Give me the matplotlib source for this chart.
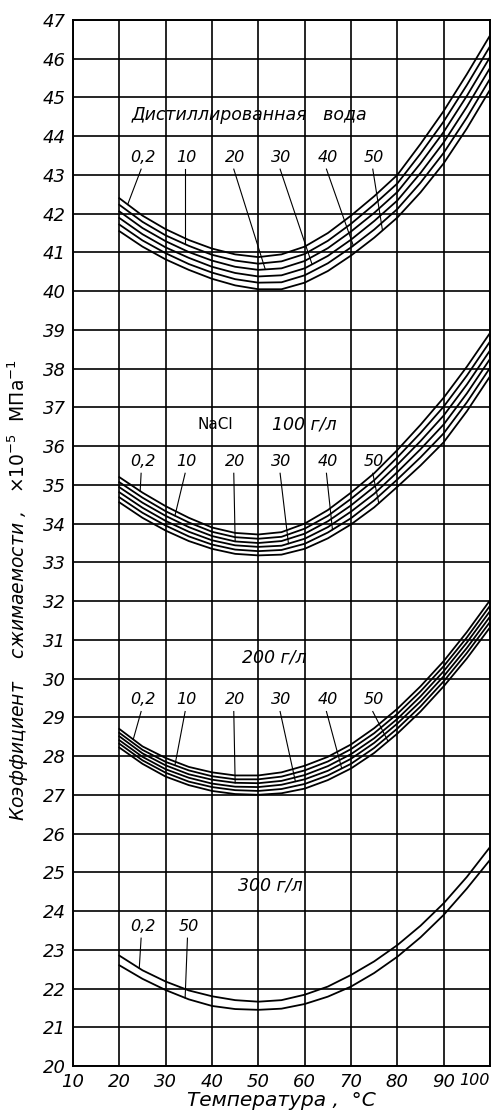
import numpy as np
import matplotlib
matplotlib.use("Agg")
from matplotlib import pyplot as plt

# temperature grid, degrees C
temps = [20, 25, 30, 35, 40, 45, 50, 55, 60, 65, 70, 75, 80, 85, 90, 95, 100]

# compressibility, x10^-5 MPa^-1; one row per pressure 0.2, 10, 20, 30, 40, 50 MPa
water = [
    [42.40, 41.95, 41.60, 41.32, 41.10, 40.95, 40.88, 40.95, 41.15, 41.50, 41.95, 42.45, 43.00, 43.80, 44.65, 45.60, 46.60],
    [42.23, 41.79, 41.44, 41.17, 40.94, 40.79, 40.71, 40.77, 40.96, 41.30, 41.74, 42.24, 42.78, 43.55, 44.38, 45.32, 46.32],
    [42.06, 41.63, 41.29, 41.01, 40.79, 40.63, 40.55, 40.59, 40.78, 41.11, 41.54, 42.02, 42.56, 43.30, 44.11, 45.04, 46.04],
    [41.89, 41.47, 41.13, 40.86, 40.63, 40.47, 40.38, 40.41, 40.59, 40.91, 41.33, 41.81, 42.34, 43.05, 43.84, 44.76, 45.76],
    [41.72, 41.31, 40.98, 40.70, 40.48, 40.31, 40.22, 40.23, 40.41, 40.72, 41.13, 41.59, 42.12, 42.80, 43.57, 44.48, 45.48],
    [41.55, 41.15, 40.82, 40.55, 40.32, 40.15, 40.05, 40.05, 40.22, 40.52, 40.92, 41.38, 41.90, 42.55, 43.30, 44.20, 45.20],
]
nacl_100 = [
    [35.20, 34.80, 34.45, 34.15, 33.90, 33.76, 33.72, 33.78, 34.00, 34.35, 34.80, 35.30, 35.90, 36.55, 37.25, 38.05, 38.92],
    [35.07, 34.67, 34.32, 34.03, 33.79, 33.65, 33.61, 33.66, 33.87, 34.20, 34.64, 35.12, 35.71, 36.34, 37.02, 37.82, 38.70],
    [34.94, 34.54, 34.20, 33.91, 33.68, 33.54, 33.50, 33.55, 33.74, 34.06, 34.47, 34.95, 35.52, 36.13, 36.79, 37.59, 38.47],
    [34.81, 34.41, 34.07, 33.79, 33.57, 33.44, 33.40, 33.43, 33.61, 33.91, 34.31, 34.77, 35.33, 35.92, 36.56, 37.36, 38.25],
    [34.68, 34.28, 33.95, 33.67, 33.46, 33.33, 33.29, 33.32, 33.48, 33.77, 34.14, 34.60, 35.14, 35.71, 36.33, 37.13, 38.02],
    [34.55, 34.15, 33.82, 33.55, 33.35, 33.22, 33.18, 33.20, 33.35, 33.62, 33.98, 34.42, 34.95, 35.50, 36.10, 36.90, 37.80],
]
nacl_200 = [
    [28.70, 28.25, 27.95, 27.72, 27.58, 27.50, 27.50, 27.58, 27.75, 27.98, 28.30, 28.72, 29.22, 29.80, 30.45, 31.20, 32.02],
    [28.60, 28.16, 27.85, 27.63, 27.48, 27.40, 27.40, 27.47, 27.63, 27.86, 28.18, 28.59, 29.09, 29.67, 30.32, 31.06, 31.88],
    [28.51, 28.07, 27.76, 27.53, 27.39, 27.31, 27.30, 27.36, 27.51, 27.74, 28.05, 28.46, 28.96, 29.54, 30.19, 30.93, 31.74],
    [28.41, 27.98, 27.66, 27.44, 27.29, 27.21, 27.20, 27.26, 27.40, 27.62, 27.93, 28.34, 28.84, 29.41, 30.06, 30.79, 31.60],
    [28.32, 27.89, 27.57, 27.34, 27.20, 27.12, 27.10, 27.15, 27.28, 27.50, 27.80, 28.21, 28.71, 29.28, 29.93, 30.66, 31.46],
    [28.22, 27.80, 27.47, 27.25, 27.10, 27.02, 27.00, 27.04, 27.16, 27.38, 27.68, 28.08, 28.58, 29.15, 29.80, 30.52, 31.32],
]
# only 0.2 and 50 MPa drawn for 300 g/l
nacl_300 = [
    [22.85, 22.47, 22.18, 21.95, 21.80, 21.70, 21.66, 21.70, 21.84, 22.05, 22.35, 22.70, 23.12, 23.62, 24.20, 24.88, 25.65],
    [22.60, 22.25, 21.96, 21.72, 21.55, 21.47, 21.45, 21.48, 21.60, 21.79, 22.05, 22.40, 22.82, 23.32, 23.90, 24.58, 25.32],
]

pressure_labels = ["0,2", "10", "20", "30", "40", "50"]
label_temps = [25, 34.5, 45, 55, 65, 75]

# (curves, labels, label temps, label level, leader target temps, title, title temp, title level)
groups = [
    (water, pressure_labels, label_temps, 43.45, [21.8, 34.2, 51.5, 61.6, 70.5, 76.8],
     "Дистиллированная   вода", 48.0, 44.55),
    (nacl_100, pressure_labels, label_temps, 35.6, [24.5, 32.0, 45.0, 56.5, 66.0, 76.0],
     "100 г/л", 60.0, 36.55),
    (nacl_200, pressure_labels, label_temps, 29.45, [23.0, 32.0, 45.0, 58.0, 68.0, 78.0],
     "200 г/л", 53.5, 30.55),
    (nacl_300, ["0,2", "50"], [25, 35], 23.6, [24.3, 34.2],
     "300 г/л", 52.5, 24.65),
]

narrow = ["Liberation Sans Narrow", "DejaVu Sans"]

fig = plt.figure(figsize=(4.94, 11.2), dpi=100)
ax = fig.add_axes([73 / 494, 1 - 1066 / 1120, 417 / 494, 1046 / 1120])

for curves, labels, ltemps, level, targets, title, tx, ty in groups:
    for row in curves:
        ax.plot(temps, row, color="black", lw=1.3, zorder=3)
    for i, (lab, lt, tt) in enumerate(zip(labels, ltemps, targets)):
        ax.text(lt, level, lab, fontsize=11.5, style="italic", family=narrow,
                ha="center", va="center", zorder=4)
        y_end = np.interp(tt, temps, curves[i])
        ax.plot([lt - 0.3, tt], [level - 0.3, y_end], color="black", lw=0.8, zorder=3)
    ax.text(tx, ty, title, fontsize=12.5, style="italic", family=narrow,
            ha="center", va="center", zorder=4)

ax.text(40.8, 36.55, "NaCl", fontsize=11, family="DejaVu Sans", ha="center", va="center")

ax.set_xlim(10, 100)
ax.set_ylim(20, 47)
ax.set_xticks(range(10, 101, 10))
ax.set_yticks(range(20, 48))
ax.grid(True, color="black", lw=1.2)
ax.set_axisbelow(True)
for s in ax.spines.values():
    s.set_linewidth(1.4)
ax.tick_params(length=0, labelsize=13, pad=5)
for t in ax.get_xticklabels() + ax.get_yticklabels():
    t.set_fontstyle("italic")
    t.set_family(narrow)
last = ax.get_xticklabels()[-1]
last.set_horizontalalignment("right")
last.set_fontsize(11.5)

ax.set_ylabel("Коэффициент    сжимаемости ,   $\\times10^{-5}$  $\\mathrm{МПа}^{-1}$",
              fontsize=13.5, style="italic", family=narrow)
ax.yaxis.set_label_coords(-0.1, 0.455)
ax.set_xlabel("Температура ,  °C", fontsize=14.5, style="italic", family=narrow, labelpad=0)

fig.savefig("out.png", dpi=100, facecolor="white")
